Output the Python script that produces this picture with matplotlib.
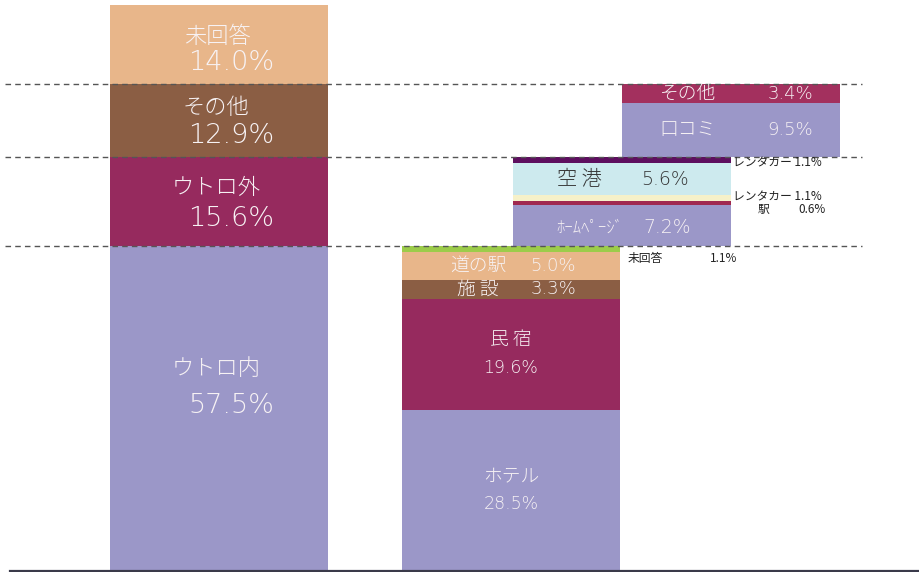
import matplotlib
matplotlib.use("Agg")
import matplotlib.pyplot as plt

plt.rcParams['font.family'] = ['Noto Sans CJK JP', 'DejaVu Sans']

# ---- data ----
bar1_names = ['ウトロ内', 'ウトロ外', 'その他', '未回答']
bar1_vals = [57.5, 15.6, 12.9, 14.0]

bar2_names = ['ホテル', '民 宿', '施 設', '道の駅', '未回答']
bar2_vals = [28.5, 19.6, 3.3, 5.0, 1.1]

bar3_names = ['ﾎｰﾑﾍﾟｰｼﾞ', '駅', 'レンタカー', '空 港', 'レンタカー']
bar3_vals = [7.2, 0.6, 1.1, 5.6, 1.1]

bar4_names = ['口コミ', 'その他']
bar4_vals = [9.5, 3.4]

# ---- style ----
C_LAV = '#9b97c8'
C_CRIM = '#962a5e'
C_BROWN = '#8b5e44'
C_TAN = '#e8b68a'
colors1 = [C_LAV, C_CRIM, C_BROWN, C_TAN]
colors2 = [C_LAV, C_CRIM, C_BROWN, C_TAN, '#9ccc4a']
colors3 = [C_LAV, '#a0284f', '#f6f1c9', '#cdeaee', '#5e0f5f']
colors4 = [C_LAV, '#a3305e']
TXT = '#f7f2f4'
FW = 'light'
JP = ['Noto Sans CJK JP', 'DejaVu Sans']
NUM = ['DejaVu Sans', 'Noto Sans CJK JP']

W = 218
x1, x2, x3, x4 = 219, 511, 622, 731

fig = plt.figure(figsize=(9.19, 5.72), dpi=100)
ax = fig.add_axes([0, 1/572, 1, 566/572])
ax.set_xlim(0, 919)
ax.set_ylim(0, 100)
ax.axis('off')

def stack(x, vals, colors, base=0.0):
    bottoms = []
    b = base
    for v, c in zip(vals, colors):
        ax.bar(x, v, bottom=b, width=W, color=c, edgecolor='none', zorder=2)
        bottoms.append(b)
        b += v
    return bottoms

b1 = stack(x1, bar1_vals, colors1)
b2 = stack(x2, bar2_vals, colors2)
base3 = bar1_vals[0]
b3 = stack(x3, bar3_vals, colors3, base3)
base4 = bar1_vals[0] + bar1_vals[1]
b4 = stack(x4, bar4_vals, colors4, base4)

# dashed reference lines at cumulative boundaries of bar 1
cum = 0
for v in bar1_vals[:-1]:
    cum += v
    ax.plot([5, 862], [cum, cum], color='#555555', lw=1.0,
            dashes=(4, 3), zorder=3)

# baseline
ax.plot([10, 919], [0, 0], color='#3a3a4a', lw=1.6, zorder=4, clip_on=False)

def lab(s, xy, dx, dy, size, color=TXT, ha='center', fw=FW, fam=JP):
    ax.annotate(s, xy, xytext=(dx, dy), textcoords='offset points',
                ha=ha, va='center', color=color, fontsize=size,
                fontweight=fw, family=fam, zorder=5)

def num(s, xy, dx, dy, size, color=TXT, ha='center'):
    lab(s, xy, dx, dy, size, color=color, ha=ha, fw='light', fam=NUM)

# ---- labels bar 1 (two lines) ----
# (name dx, name dy, pct dx, pct dy) in points
offs1 = [(-2, 28.5, 9, 2), (-2, 10, 9, -12), (-2, 9, 9, -10.5), (-1, 5.5, 9, -13)]
for name, v, b, (nx, ny, px, py) in zip(bar1_names, bar1_vals, b1, offs1):
    mid = b + v / 2
    lab(name, (x1, mid), nx, ny, 16)
    num(f'{v:.1f}%', (x1, mid), px, py, 19.5)

# ---- labels bar 2 ----
for i in (0, 1):
    name, v, b = bar2_names[i], bar2_vals[i], b2[i]
    mid = b + v / 2
    lab(name, (x2, mid), 0, 10, 13.5)
    num(f'{v:.1f}%', (x2, mid), 0, -10, 12.5)
for i in (2, 3):
    name, v, b = bar2_names[i], bar2_vals[i], b2[i]
    mid = b + v / 2
    lab(name, (x2 - 33, mid), 0, 0, 13.5)
    num(f'{v:.1f}%', (x2 + 42, mid), 0, 0, 13)
# 未回答 (bar 2) outside label
m = b2[4] + bar2_vals[4] / 2
lab(bar2_names[4], (628, m), 0, -7, 8.5, color='#222222', ha='left', fw='normal')
lab(f'{bar2_vals[4]:.1f}%', (710, m), 0, -7, 8.5, color='#222222', ha='left', fw='normal')

# ---- labels bar 3 ----
mid = b3[0] + bar3_vals[0] / 2
lab(bar3_names[0], (x3 - 32, mid), 0, -2, 12)
num(f'{bar3_vals[0]:.1f}%', (x3 + 45, mid), 0, -2, 13.5)
mid = b3[3] + bar3_vals[3] / 2
lab(bar3_names[3], (x3 - 43, mid), 0, 0, 14.5, color='#333333')
num(f'{bar3_vals[3]:.1f}%', (x3 + 43, mid), 0, 0, 13.5, color='#333333')
# outside labels
top3 = b3[4] + bar3_vals[4]
lab(f'{bar3_names[4]} {bar3_vals[4]:.1f}%', (733, top3), 0, -4, 8.5,
    color='#222222', ha='left', fw='normal')
yb = b3[2] + bar3_vals[2]
lab(f'{bar3_names[2]} {bar3_vals[2]:.1f}%', (733, yb), 0, -1, 8.5,
    color='#222222', ha='left', fw='normal')
lab(bar3_names[1], (763, yb), 0, -10, 8.5, color='#222222', fw='normal')
lab(f'{bar3_vals[1]:.1f}%', (826, yb), 0, -10, 8.5, color='#222222',
    ha='right', fw='normal')

# ---- labels bar 4 ----
for name, v, b in zip(bar4_names, bar4_vals, b4):
    mid = b + v / 2
    lab(name, (x4 - 43, mid), 0, 0, 13.5)
    num(f'{v:.1f}%', (x4 + 59, mid), 0, 0, 13)

fig.savefig('out.png', dpi=100)
